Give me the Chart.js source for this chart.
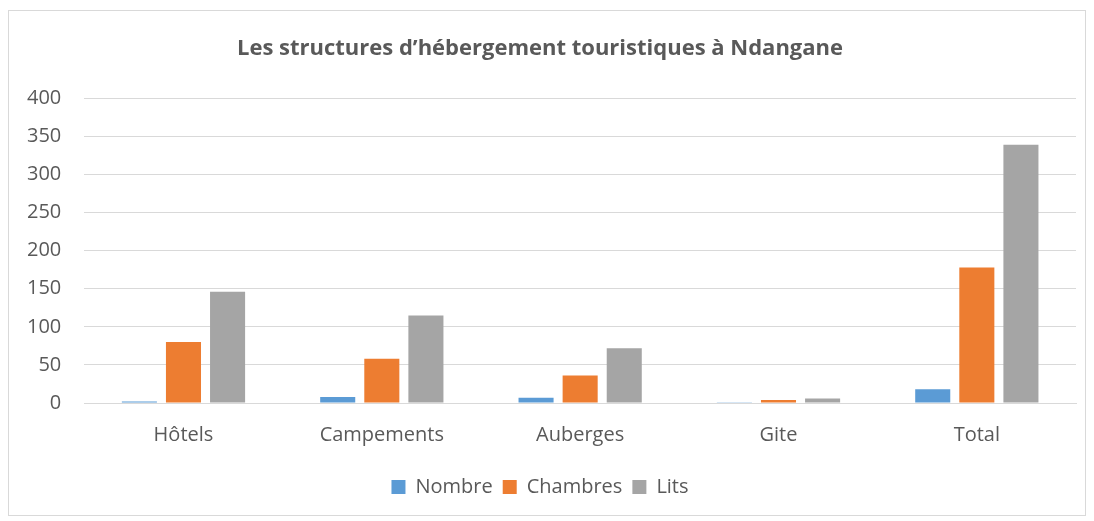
<!DOCTYPE html>
<html>
<head>
<meta charset="utf-8">
<script src="https://cdn.jsdelivr.net/npm/chart.js@4"></script>
<style>
  body { margin: 0; background: #fff; }
  #cadre { position: absolute; left: 8px; top: 10px; width: 1076px; height: 504px; border: 1px solid #d9d9d9; }
  #zone { position: absolute; left: 0; top: 0; width: 1094px; height: 521px; }
</style>
</head>
<body>
<div id="cadre"></div>
<div id="zone"><canvas id="graphique"></canvas></div>
<script>
// Données
const categories = ['Hôtels', 'Campements', 'Auberges', 'Gite', 'Total'];
const nombre = [2, 8, 7, 1, 18];
const chambres = [80, 58, 36, 4, 178];
const lits = [146, 115, 72, 6, 339];
const ticksY = [0, 50, 100, 150, 200, 250, 300, 350, 400];

const police = "'Open Sans', 'Noto Sans', sans-serif";
const gris = '#595959';

new Chart(document.getElementById('graphique'), {
    type: 'bar',
    data: {
        labels: categories,
        datasets: [
            { label: 'Nombre', data: nombre, backgroundColor: '#5b9bd5' },
            { label: 'Chambres', data: chambres, backgroundColor: '#ed7d31' },
            { label: 'Lits', data: lits, backgroundColor: '#a5a5a5' }
        ]
    },
    options: {
        responsive: true,
        maintainAspectRatio: false,
        animation: false,
        layout: { padding: { left: 4, right: 18, top: 20, bottom: 14 } },
        datasets: { bar: { categoryPercentage: 0.667, barPercentage: 0.795 } },
        plugins: {
            title: {
                display: true,
                text: 'Les structures d\u2019hébergement touristiques à Ndangane',
                color: gris,
                font: { family: police, size: 22, weight: 'bold' },
                padding: { top: 16, bottom: 36 }
            },
            legend: {
                position: 'bottom',
                labels: {
                    color: gris,
                    font: { family: police, size: 20 },
                    boxWidth: 14, boxHeight: 14, padding: 10
                }
            },
            tooltip: { enabled: false }
        },
        scales: {
            x: {
                grid: { display: false, drawTicks: false },
                border: { color: '#d9d9d9', width: 1 },
                ticks: { color: gris, font: { family: police, size: 20 }, padding: 20 }
            },
            y: {
                min: 0,
                max: 400,
                afterBuildTicks: axe => { axe.ticks = ticksY.map(v => ({ value: v })); },
                grid: { color: '#d9d9d9', drawTicks: false },
                border: { display: false },
                ticks: { color: gris, font: { family: police, size: 20 }, padding: 23 }
            }
        }
    }
});
</script>
</body>
</html>
